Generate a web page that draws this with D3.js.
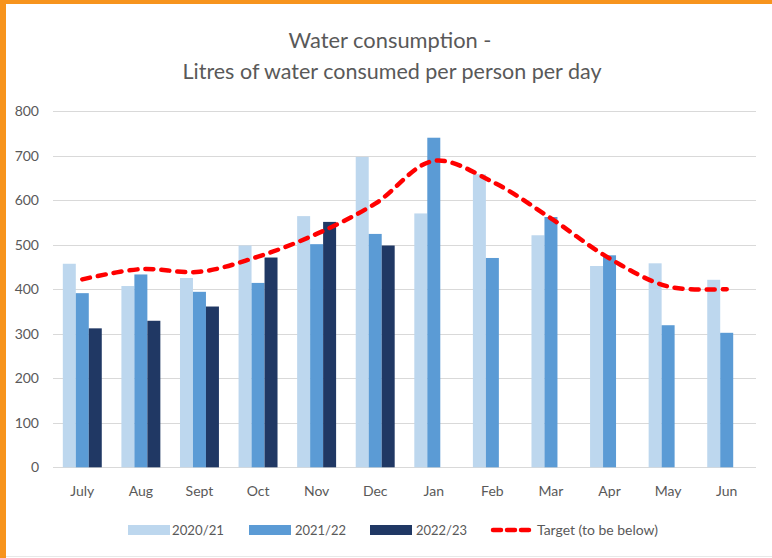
<!DOCTYPE html>
<html>
<head>
<meta charset="utf-8">
<script src="https://cdn.jsdelivr.net/npm/d3@7"></script>
<style>
  body { margin: 0; background: #fff; }
  svg { display: block; font-family: Lato, "Open Sans", sans-serif; }
</style>
</head>
<body>
<svg id="chart" width="772" height="558"></svg>
<script>
var months = ["July", "Aug", "Sept", "Oct", "Nov", "Dec", "Jan", "Feb", "Mar", "Apr", "May", "Jun"];
var seriesNames = ["2020/21", "2021/22", "2022/23"];
var v2020 = [457, 407, 425, 498, 564, 697, 570, 658, 521, 452, 458, 421];
var v2021 = [391, 433, 394, 414, 501, 524, 740, 470, 562, 476, 319, 302];
var v2022 = [312, 329, 361, 471, 551, 498, null, null, null, null, null, null];
var target = [422, 445, 439, 473, 524, 592, 688, 641, 559, 469, 406, 400];
var yTicks = [0, 100, 200, 300, 400, 500, 600, 700, 800];
var colors = ["#BDD7EE", "#5B9BD5", "#203864"];

var svg = d3.select("#chart");
var textCol = "#595959";

// card frame
svg.append("rect").attr("x", 0).attr("y", 0).attr("width", 772).attr("height", 4).attr("fill", "#F7941D");
svg.append("rect").attr("x", 0).attr("y", 0).attr("width", 6).attr("height", 558).attr("fill", "#F7941D");
svg.append("line").attr("x1", 6).attr("x2", 772).attr("y1", 556.5).attr("y2", 556.5).attr("stroke", "#e8e8e8");

var plotL = 53, plotR = 756, plotT = 111, plotB = 467.3;

var x = d3.scaleBand().domain(months).range([plotL, plotR]).paddingInner(0.335).paddingOuter(0.1675);
var xs = d3.scaleBand().domain(seriesNames).range([0, x.bandwidth()]);
var y = d3.scaleLinear().domain([0, 800]).range([plotB, plotT]);

// title
svg.append("text").attr("x", 390).attr("y", 48).attr("text-anchor", "middle")
  .attr("fill", textCol).style("font-size", "21px")
  .attr("textLength", 203).attr("lengthAdjust", "spacingAndGlyphs")
  .text("Water consumption -");
svg.append("text").attr("x", 392).attr("y", 79).attr("text-anchor", "middle")
  .attr("fill", textCol).style("font-size", "21px")
  .attr("textLength", 419).attr("lengthAdjust", "spacingAndGlyphs")
  .text("Litres of water consumed per person per day");

// gridlines
svg.append("g").selectAll("line").data(yTicks).enter().append("line")
  .attr("x1", plotL).attr("x2", plotR)
  .attr("y1", d => Math.round(y(d)) + 0.5).attr("y2", d => Math.round(y(d)) + 0.5)
  .attr("stroke", "#D9D9D9").attr("stroke-width", 1);

// y axis labels
var yAxis = svg.append("g").attr("transform", "translate(" + (plotL - 14) + ",0)")
  .call(d3.axisLeft(y).tickValues(yTicks).tickSize(0).tickPadding(0));
yAxis.select(".domain").remove();
yAxis.selectAll("text").attr("fill", textCol).style("font-size", "14px").style("font-family", "Lato");

// x axis labels
var xAxis = svg.append("g").attr("transform", "translate(0," + plotB + ")")
  .call(d3.axisBottom(x).tickSize(0).tickPadding(19));
xAxis.select(".domain").remove();
xAxis.selectAll("text").attr("fill", textCol).style("font-size", "14px").style("font-family", "Lato");

// bars
var series = [v2020, v2021, v2022];
series.forEach(function(vals, si) {
  svg.append("g").selectAll("rect")
    .data(months.map((m, i) => ({ m: m, v: vals[i] })).filter(d => d.v != null))
    .enter().append("rect")
    .attr("x", d => x(d.m) + xs(seriesNames[si]))
    .attr("y", d => y(d.v))
    .attr("width", xs.bandwidth())
    .attr("height", d => y(0) - y(d.v))
    .attr("fill", colors[si]);
});

// target line
var line = d3.line()
  .x((d, i) => x(months[i]) + x.bandwidth() / 2)
  .y(d => y(d))
  .curve(d3.curveCatmullRom.alpha(0.5));
svg.append("path").datum(target)
  .attr("d", line)
  .attr("fill", "none")
  .attr("stroke", "#FF0000")
  .attr("stroke-width", 4.5)
  .attr("stroke-dasharray", "8,8")
  .attr("stroke-linecap", "round");

// legend
var legY = 530;
var legItems = [
  { name: "2020/21", sx: 128, tx: 172, tw: 52 },
  { name: "2021/22", sx: 249, tx: 295, tw: 51 },
  { name: "2022/23", sx: 370, tx: 416, tw: 51 }
];
var leg = svg.append("g");
legItems.forEach(function(it, i) {
  leg.append("rect").attr("x", it.sx).attr("y", legY - 5).attr("width", 42).attr("height", 10).attr("fill", colors[i]);
  leg.append("text").attr("x", it.tx).attr("y", legY + 5).attr("fill", textCol).style("font-size", "14px")
    .attr("textLength", it.tw).attr("lengthAdjust", "spacingAndGlyphs").text(it.name);
});
leg.append("line").attr("x1", 493).attr("x2", 529).attr("y1", legY).attr("y2", legY)
  .attr("stroke", "#FF0000").attr("stroke-width", 4.5).attr("stroke-dasharray", "8,6").attr("stroke-linecap", "round");
leg.append("text").attr("x", 537).attr("y", legY + 5).attr("fill", textCol).style("font-size", "14px")
  .attr("textLength", 121).attr("lengthAdjust", "spacingAndGlyphs").text("Target (to be below)");
</script>
</body>
</html>
